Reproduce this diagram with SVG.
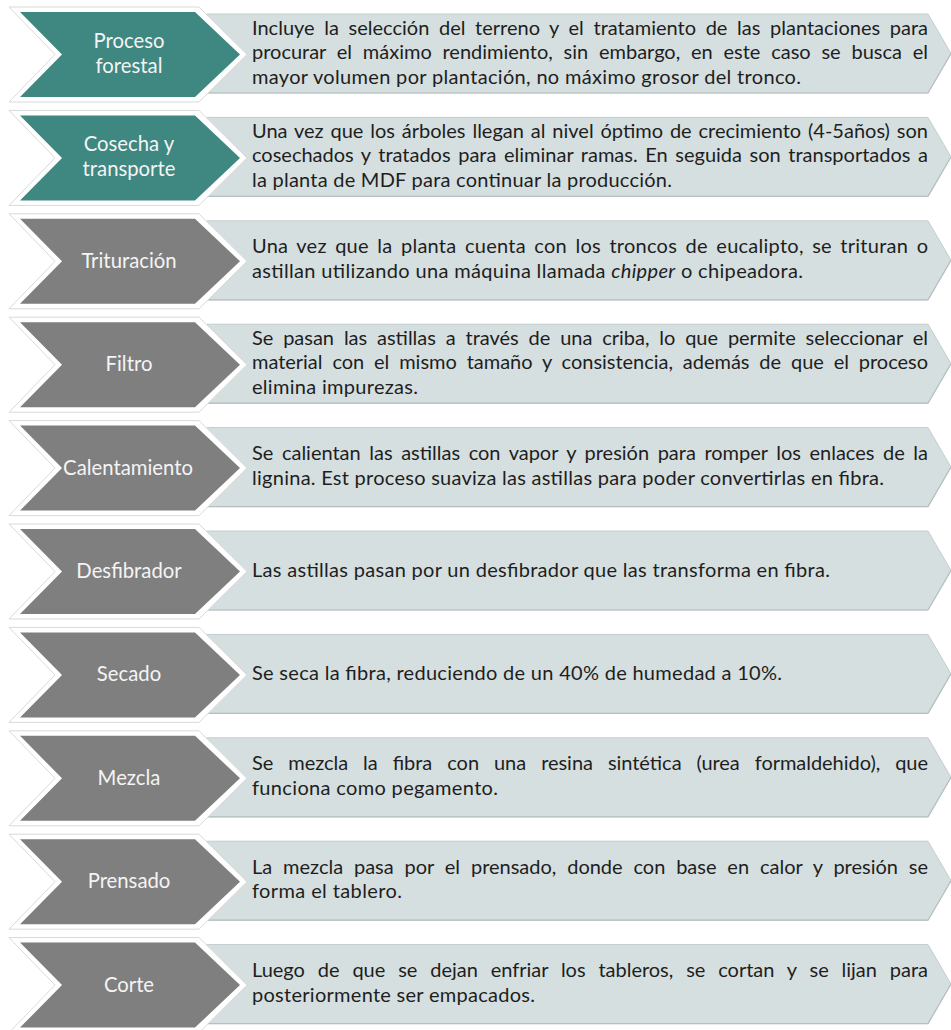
<svg xmlns="http://www.w3.org/2000/svg" width="951" height="1030" viewBox="0 0 951 1030">
  <style>
    .frame { fill: #ffffff; stroke: #d9d9d9; stroke-width: 1; }
    .teal { fill: #3f8781; }
    .gray { fill: #7f7f7f; }
    .box { fill: #d5dfe0; stroke: #c3cdce; stroke-width: 1; }
    .edge { fill: none; stroke: #b7c0c1; stroke-width: 1.2; }
    .lbl { font-family: Lato, "Open Sans", "Liberation Sans", sans-serif; font-size: 20.3px; fill: #f4f4f4; text-anchor: middle; }
    .txt { font-family: Lato, "Open Sans", "Liberation Sans", sans-serif; font-size: 20px; fill: #1e1e1e; }
  </style>
  <defs>
    <!-- description panel with pointed right end -->
    <polygon id="box" points="207,14 928,14 951,53.5 928,93 207,93"/>
    <polyline id="boxEdge" points="207,93 928,93 951,53.5"/>
    <!-- chevron with its white outline -->
    <polygon id="frame" points="9,7 199,7 247,54.5 199,102 9,102 55,54.5"/>
    <polygon id="chev" points="20,12 195,12 240,54.5 195,97 20,97 62,54.5"/>
  </defs>

  <rect width="951" height="1030" fill="#ffffff"/>

  <g id="step-proceso-forestal" transform="translate(0,0)">
    <use href="#box" class="box"/><use href="#boxEdge" class="edge"/>
    <use href="#frame" class="frame"/><use href="#chev" class="teal"/>
    <text class="lbl" x="129" y="47.5">Proceso</text>
    <text class="lbl" x="129" y="72.5">forestal</text>
    <text class="txt" x="252" y="34.5" word-spacing="4.5" textLength="676" lengthAdjust="spacing">Incluye la selección del terreno y el tratamiento de las plantaciones para</text>
    <text class="txt" x="252" y="59" word-spacing="5.7" textLength="676" lengthAdjust="spacing">procurar el máximo rendimiento, sin embargo, en este caso se busca el</text>
    <text class="txt" x="252" y="83.5" textLength="549" lengthAdjust="spacing">mayor volumen por plantación, no máximo grosor del tronco.</text>
  </g>

  <g id="step-cosecha" transform="translate(0,103.4)">
    <use href="#box" class="box"/><use href="#boxEdge" class="edge"/>
    <use href="#frame" class="frame"/><use href="#chev" class="teal"/>
    <text class="lbl" x="129" y="47.5">Cosecha y</text>
    <text class="lbl" x="129" y="72.5">transporte</text>
    <text class="txt" x="252" y="34.5" word-spacing="1.8" textLength="676" lengthAdjust="spacing">Una vez que los árboles llegan al nivel óptimo de crecimiento (4-5años) son</text>
    <text class="txt" x="252" y="59" word-spacing="2.5" textLength="676" lengthAdjust="spacing">cosechados y tratados para eliminar ramas. En seguida son transportados a</text>
    <text class="txt" x="252" y="83.5" textLength="420" lengthAdjust="spacing">la planta de MDF para continuar la producción.</text>
  </g>

  <g id="step-trituracion" transform="translate(0,206.8)">
    <use href="#box" class="box"/><use href="#boxEdge" class="edge"/>
    <use href="#frame" class="frame"/><use href="#chev" class="gray"/>
    <text class="lbl" x="129" y="61">Trituración</text>
    <text class="txt" x="252" y="46.5" word-spacing="3.1" textLength="676" lengthAdjust="spacing">Una vez que la planta cuenta con los troncos de eucalipto, se trituran o</text>
    <text class="txt" x="252" y="71" textLength="551" lengthAdjust="spacing">astillan utilizando una máquina llamada <tspan font-style="italic">chipper</tspan> o chipeadora.</text>
  </g>

  <g id="step-filtro" transform="translate(0,310.2)">
    <use href="#box" class="box"/><use href="#boxEdge" class="edge"/>
    <use href="#frame" class="frame"/><use href="#chev" class="gray"/>
    <text class="lbl" x="129" y="61">Filtro</text>
    <text class="txt" x="252" y="34.5" word-spacing="4.8" textLength="676" lengthAdjust="spacing">Se pasan las astillas a través de una criba, lo que permite seleccionar el</text>
    <text class="txt" x="252" y="59" word-spacing="4.8" textLength="676" lengthAdjust="spacing">material con el mismo tamaño y consistencia, además de que el proceso</text>
    <text class="txt" x="252" y="83.5" textLength="166" lengthAdjust="spacing">elimina impurezas.</text>
  </g>

  <g id="step-calentamiento" transform="translate(0,413.6)">
    <use href="#box" class="box"/><use href="#boxEdge" class="edge"/>
    <use href="#frame" class="frame"/><use href="#chev" class="gray"/>
    <text class="lbl" x="128" y="61">Calentamiento</text>
    <text class="txt" x="252" y="46.5" word-spacing="3.5" textLength="676" lengthAdjust="spacing">Se calientan las astillas con vapor y presión para romper los enlaces de la</text>
    <text class="txt" x="252" y="71" textLength="632" lengthAdjust="spacing">lignina. Est proceso suaviza las astillas para poder convertirlas en fibra.</text>
  </g>

  <g id="step-desfibrador" transform="translate(0,517)">
    <use href="#box" class="box"/><use href="#boxEdge" class="edge"/>
    <use href="#frame" class="frame"/><use href="#chev" class="gray"/>
    <text class="lbl" x="129" y="61">Desfibrador</text>
    <text class="txt" x="252" y="59.5" textLength="578" lengthAdjust="spacing">Las astillas pasan por un desfibrador que las transforma en fibra.</text>
  </g>

  <g id="step-secado" transform="translate(0,620.4)">
    <use href="#box" class="box"/><use href="#boxEdge" class="edge"/>
    <use href="#frame" class="frame"/><use href="#chev" class="gray"/>
    <text class="lbl" x="129" y="61">Secado</text>
    <text class="txt" x="252" y="59.5" textLength="530" lengthAdjust="spacing">Se seca la fibra, reduciendo de un 40% de humedad a 10%.</text>
  </g>

  <g id="step-mezcla" transform="translate(0,723.8)">
    <use href="#box" class="box"/><use href="#boxEdge" class="edge"/>
    <use href="#frame" class="frame"/><use href="#chev" class="gray"/>
    <text class="lbl" x="129" y="61">Mezcla</text>
    <text class="txt" x="252" y="46.5" word-spacing="9.9" textLength="676" lengthAdjust="spacing">Se mezcla la fibra con una resina sintética (urea formaldehido), que</text>
    <text class="txt" x="252" y="71" textLength="246" lengthAdjust="spacing">funciona como pegamento.</text>
  </g>

  <g id="step-prensado" transform="translate(0,827.2)">
    <use href="#box" class="box"/><use href="#boxEdge" class="edge"/>
    <use href="#frame" class="frame"/><use href="#chev" class="gray"/>
    <text class="lbl" x="129" y="61">Prensado</text>
    <text class="txt" x="252" y="46.5" word-spacing="5.8" textLength="676" lengthAdjust="spacing">La mezcla pasa por el prensado, donde con base en calor y presión se</text>
    <text class="txt" x="252" y="71" textLength="150" lengthAdjust="spacing">forma el tablero.</text>
  </g>

  <g id="step-corte" transform="translate(0,930.6)">
    <use href="#box" class="box"/><use href="#boxEdge" class="edge"/>
    <use href="#frame" class="frame"/><use href="#chev" class="gray"/>
    <text class="lbl" x="129" y="61">Corte</text>
    <text class="txt" x="252" y="46.5" word-spacing="7.8" textLength="676" lengthAdjust="spacing">Luego de que se dejan enfriar los tableros, se cortan y se lijan para</text>
    <text class="txt" x="252" y="71" textLength="283" lengthAdjust="spacing">posteriormente ser empacados.</text>
  </g>

  <g id="connectors"></g>
</svg>
